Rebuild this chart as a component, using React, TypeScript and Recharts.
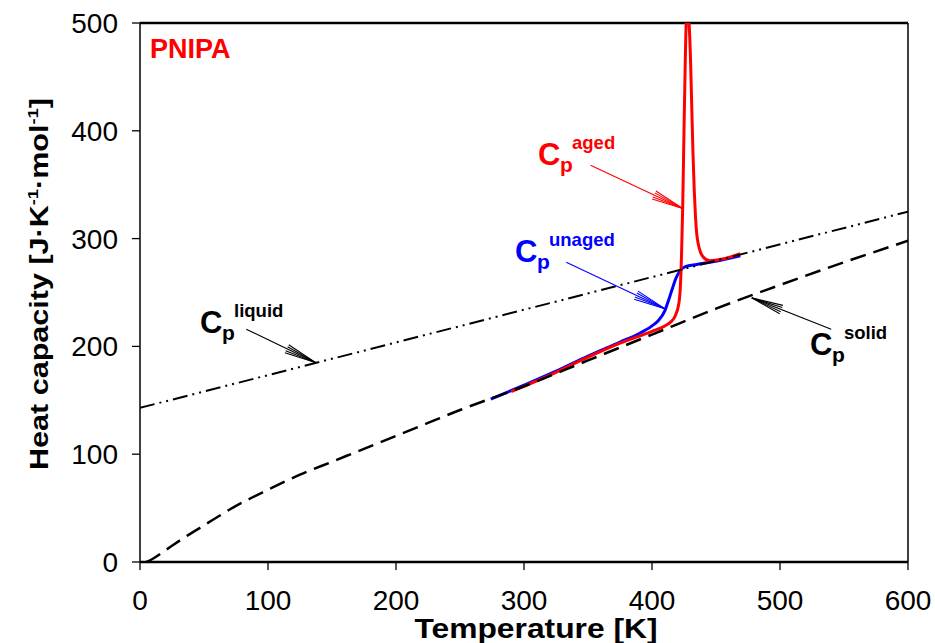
import React from 'react';
import { LineChart, Line, XAxis, YAxis, ReferenceLine } from 'recharts';

// temperatures [K] and heat capacities [J/(K mol)]
const liquidT = [0, 600];
const liquidCp = [143, 325];

const solidT = [5, 10, 20, 35, 50, 75, 100, 125, 150, 175, 200, 225, 250, 300, 350, 400, 450, 500, 550, 600];
const solidCp = [0, 3, 11, 23, 34, 52, 67, 81, 93, 105, 117, 129, 141, 163, 187, 211, 235, 257, 278, 298];

const unagedT = [274, 300, 325, 350, 375, 390, 400, 405, 410, 413, 416, 419, 422, 426, 435, 450, 469];
const unagedCp = [151, 164, 177, 191, 204, 212, 219, 224, 233, 243, 254, 264, 270, 274, 276, 279, 284];

const agedT = [290, 300, 325, 350, 375, 400, 410, 415, 418, 421, 422, 423, 424, 425, 426, 427, 428, 429, 430, 431, 432, 433, 434, 435, 436, 438, 440, 445, 455, 469];
const agedCp = [158, 163, 176, 190, 203, 214, 219, 223, 228, 240, 252, 282, 330, 400, 465, 510, 520, 500, 470, 425, 380, 345, 320, 304, 296, 287, 283, 279.5, 281, 286];

const xTicks = [0, 100, 200, 300, 400, 500, 600];
const yTicks = [0, 100, 200, 300, 400, 500];

const toRows = (t: number[], cp: number[]) => t.map((v, i) => ({ t: v, cp: cp[i] }));

const W = 935;
const H = 643;
const PLOT = { left: 140, top: 23, width: 768, height: 539 };
const FONT = '"Liberation Sans", Arial, sans-serif';

// data -> pixel, for annotations only
const px = (t: number) => PLOT.left + (t / 600) * PLOT.width;
const py = (cp: number) => PLOT.top + PLOT.height - (cp / 500) * PLOT.height;

function Arrow({ from, to, color }: { from: [number, number]; to: [number, number]; color: string }) {
  const x1 = px(from[0]);
  const y1 = py(from[1]);
  const x2 = px(to[0]);
  const y2 = py(to[1]);
  const ang = Math.atan2(y1 - y2, x1 - x2);
  const heads = [-8, -4, 4, 8].map((d) => {
    const a = ang + (d * Math.PI) / 180;
    return [x2 + 32 * Math.cos(a), y2 + 32 * Math.sin(a)];
  });
  return (
    <g stroke={color} strokeWidth={1.1}>
      <line x1={x1} y1={y1} x2={x2} y2={y2} />
      {heads.map((h, i) => (
        <line key={i} x1={h[0]} y1={h[1]} x2={x2} y2={y2} />
      ))}
    </g>
  );
}

function CpLabel({ x, y, sup, color }: { x: number; y: number; sup: string; color: string }) {
  return (
    <g fill={color} fontFamily={FONT} fontWeight="bold">
      <text x={x} y={y} fontSize={31}>C</text>
      <text x={x + 22} y={y + 7} fontSize={21}>p</text>
      <text x={x + 34} y={y - 16} fontSize={18.5}>{sup}</text>
    </g>
  );
}

export default function App() {
  return (
    <div style={{ position: 'absolute', left: 0, top: 0, width: W, height: H, background: '#fff' }}>
      <LineChart
        width={W}
        height={H}
        margin={{ top: PLOT.top, right: W - PLOT.left - PLOT.width, bottom: 0, left: 0 }}
        style={{ fontFamily: FONT }}
      >
        <XAxis
          type="number"
          dataKey="t"
          domain={[0, 600]}
          ticks={xTicks}
          allowDataOverflow
          height={H - PLOT.top - PLOT.height}
          tickSize={8}
          tickMargin={20}
          axisLine={{ stroke: '#000', strokeWidth: 2.5 }}
          tickLine={{ stroke: '#000', strokeWidth: 1.3 }}
          tick={{ fontSize: 28, fill: '#000', fontFamily: FONT }}
        />
        <YAxis
          type="number"
          domain={[0, 500]}
          ticks={yTicks}
          allowDataOverflow
          width={PLOT.left}
          tickSize={8}
          tickMargin={14}
          axisLine={{ stroke: '#000', strokeWidth: 1.5 }}
          tickLine={{ stroke: '#000', strokeWidth: 1.3 }}
          tick={{ fontSize: 28, fill: '#000', fontFamily: FONT }}
        />
        <ReferenceLine y={500} stroke="#000" strokeWidth={2.5} />
        <ReferenceLine x={600} stroke="#000" strokeWidth={1.5} />
        <Line data={toRows(unagedT, unagedCp)} dataKey="cp" type="monotone" stroke="#0000ff" strokeWidth={3} dot={false} isAnimationActive={false} />
        <Line data={toRows(agedT, agedCp)} dataKey="cp" type="monotone" stroke="#ff0000" strokeWidth={3} dot={false} isAnimationActive={false} />
        <Line data={toRows(solidT, solidCp)} dataKey="cp" type="monotone" stroke="#000" strokeWidth={2.5} strokeDasharray="16 8" dot={false} isAnimationActive={false} />
        <Line data={toRows(liquidT, liquidCp)} dataKey="cp" type="linear" stroke="#000" strokeWidth={2} strokeDasharray="15 5 2 5 2 5" dot={false} isAnimationActive={false} />
      </LineChart>
      <svg width={W} height={H} style={{ position: 'absolute', left: 0, top: 0, pointerEvents: 'none' }}>
        <text x={150} y={58} fill="#ff0000" fontSize={27} fontWeight="bold" fontFamily={FONT}>PNIPA</text>
        <text
          x={536}
          y={638}
          textAnchor="middle"
          fontSize={28}
          fontWeight="bold"
          fontFamily={FONT}
          textLength={243}
          lengthAdjust="spacingAndGlyphs"
        >
          Temperature [K]
        </text>
        <text
          transform="translate(48,284) rotate(-90)"
          textAnchor="middle"
          fontSize={25}
          fontWeight="bold"
          fontFamily={FONT}
          textLength={372}
          lengthAdjust="spacingAndGlyphs"
        >
          Heat capacity [J·K<tspan dy={-10} fontSize={15}>-1</tspan><tspan dy={10}>·mol</tspan><tspan dy={-10} fontSize={15}>-1</tspan><tspan dy={10}>]</tspan>
        </text>
        <CpLabel x={200} y={333} sup="liquid" color="#000" />
        <Arrow from={[83, 216]} to={[137, 185]} color="#000" />
        <CpLabel x={810} y={355} sup="solid" color="#000" />
        <Arrow from={[540, 216]} to={[478, 245]} color="#000" />
        <CpLabel x={538} y={165} sup="aged" color="#ff0000" />
        <Arrow from={[352, 368]} to={[424, 328]} color="#ff0000" />
        <CpLabel x={515} y={262} sup="unaged" color="#0000ff" />
        <Arrow from={[333, 278]} to={[410, 235]} color="#0000ff" />
      </svg>
    </div>
  );
}
